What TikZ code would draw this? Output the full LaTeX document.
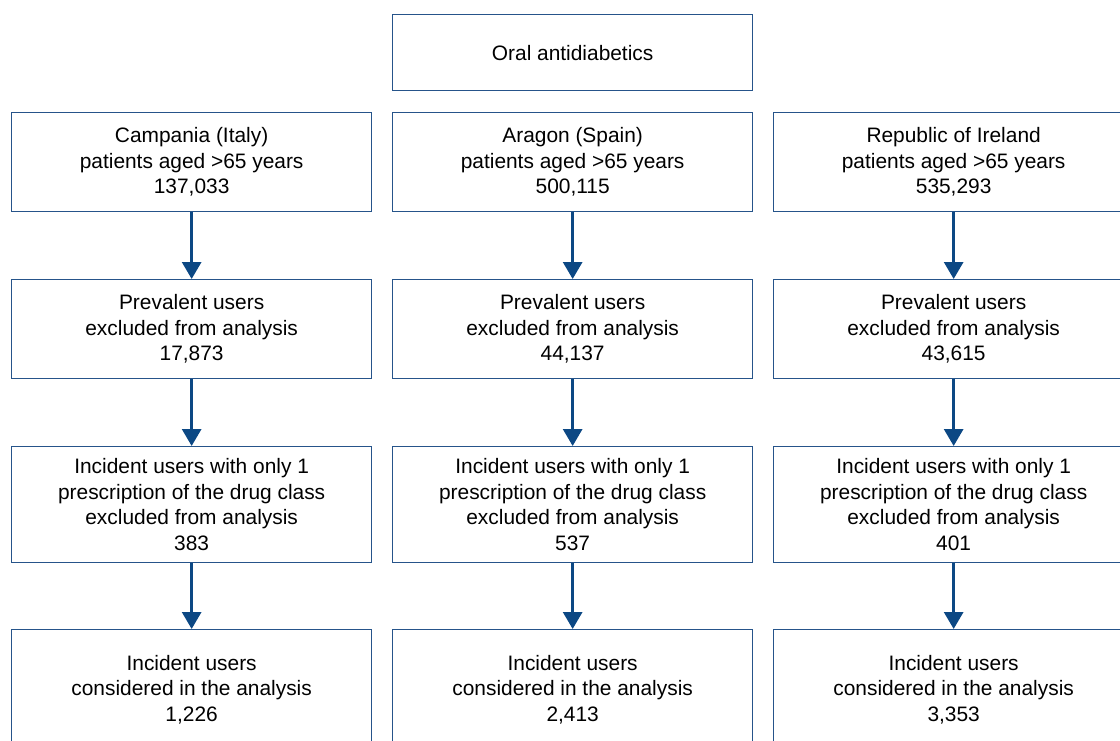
\documentclass[tikz,border=0pt]{standalone}
\usepackage{fontspec}
\setmainfont{Liberation Sans}
\usetikzlibrary{arrows.meta}
\definecolor{boxblue}{RGB}{38,84,138}
\definecolor{arrblue}{RGB}{12,72,132}
\begin{document}
\begin{tikzpicture}[x=1pt,y=-1pt,
  flowbox/.style={draw=boxblue, line width=1.3pt, anchor=north west, minimum width=360pt, inner sep=0pt, align=center, font=\fontsize{20.9}{25.5}\selectfont, text=black},
  flowarrow/.style={draw=arrblue, line width=3pt, -{Triangle[width=19pt,length=17pt]}}]
\useasboundingbox (0,0) rectangle (1120,740);
\node[flowbox, minimum height=76pt] (top) at (392,14) {Oral antidiabetics};
% row 1
\node[flowbox, minimum height=99pt] (a1) at (11,112) {Campania (Italy)\\patients aged >65 years\\137,033};
\node[flowbox, minimum height=99pt] (b1) at (392,112) {Aragon (Spain)\\patients aged >65 years\\500,115};
\node[flowbox, minimum height=99pt] (c1) at (773,112) {Republic of Ireland\\patients aged >65 years\\535,293};
% row 2
\node[flowbox, minimum height=99pt] (a2) at (11,279) {Prevalent users\\excluded from analysis\\17,873};
\node[flowbox, minimum height=99pt] (b2) at (392,279) {Prevalent users\\excluded from analysis\\44,137};
\node[flowbox, minimum height=99pt] (c2) at (773,279) {Prevalent users\\excluded from analysis\\43,615};
% row 3
\node[flowbox, minimum height=116pt] (a3) at (11,446) {Incident users with only 1\\prescription of the drug class\\excluded from analysis\\383};
\node[flowbox, minimum height=116pt] (b3) at (392,446) {Incident users with only 1\\prescription of the drug class\\excluded from analysis\\537};
\node[flowbox, minimum height=116pt] (c3) at (773,446) {Incident users with only 1\\prescription of the drug class\\excluded from analysis\\401};
% row 4
\node[flowbox, minimum height=120pt] (a4) at (11,629) {Incident users\\considered in the analysis\\1,226};
\node[flowbox, minimum height=120pt] (b4) at (392,629) {Incident users\\considered in the analysis\\2,413};
\node[flowbox, minimum height=120pt] (c4) at (773,629) {Incident users\\considered in the analysis\\3,353};
% arrows
\foreach \c in {a,b,c}{
  \draw[flowarrow] (\c1.south) -- (\c2.north);
  \draw[flowarrow] (\c2.south) -- (\c3.north);
  \draw[flowarrow] (\c3.south) -- (\c4.north);
}
\end{tikzpicture}
\end{document}
